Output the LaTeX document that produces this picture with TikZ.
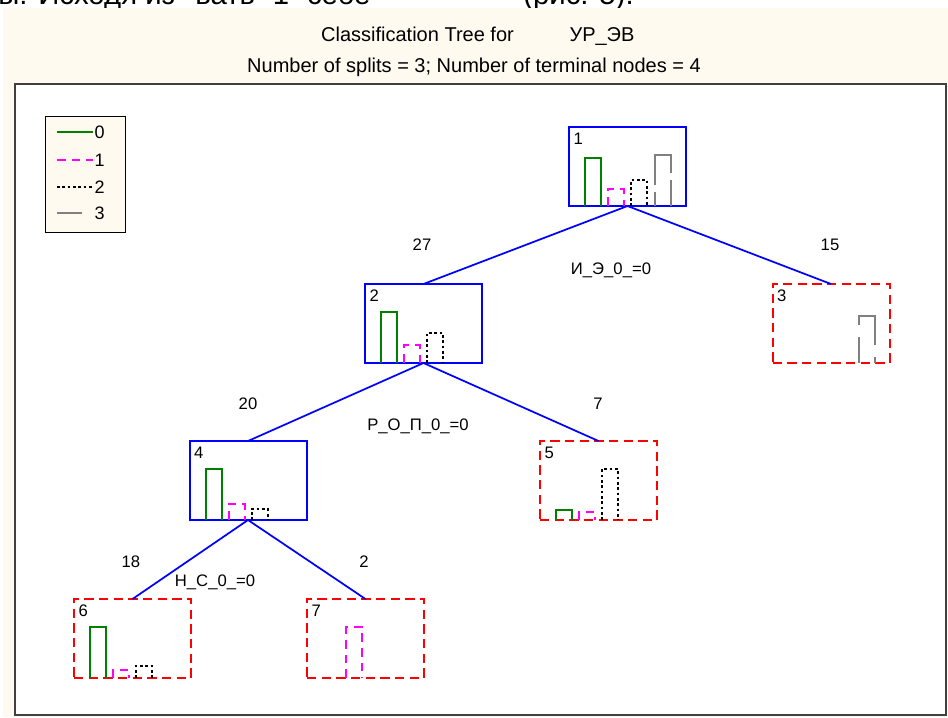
\documentclass[tikz,border=0pt]{standalone}
\usepackage{fontspec}
\setmainfont{Liberation Sans}
\usetikzlibrary{calc}

\definecolor{paper}{RGB}{255,250,240}
\definecolor{cgreen}{RGB}{0,128,0}
\definecolor{cmag}{RGB}{255,0,255}

\tikzset{
  split/.style={draw=blue, line width=1.5pt, minimum width=87.75pt, minimum height=59.25pt, inner sep=0pt, outer sep=0pt},
  leaf/.style={split, draw=red, dash pattern=on 7pt off 4pt},
  edge/.style={blue, line width=1.3pt},
  cls0/.style={cgreen, line width=1.5pt},
  cls1/.style={cmag, line width=1.5pt, dash pattern=on 6.5pt off 4.5pt},
  cls2/.style={black, line width=1.5pt, dash pattern=on 2pt off 2pt},
  cls3/.style={gray, line width=1.5pt},
  num/.style={font=\fontsize{12.5}{14}\selectfont, inner sep=1pt},
  head/.style={font=\fontsize{15}{17}\selectfont, inner sep=0pt, anchor=base},
  pagetext/.style={font=\fontsize{22}{26}\selectfont, inner sep=0pt, anchor=base west},
}

% one open bar of a histogram: node, offset, height, style
\newcommand{\histbar}[4]{%
  \draw[#4] ($(#1.south west)+(#2,0)$) -- ++(0,-#3) -- ++(16,0) -- ++(0,#3);}

\begin{document}
\begin{tikzpicture}[x=0.75pt, y=-0.75pt]
\useasboundingbox (0,0) rectangle (948,717);
\fill[white] (0,0) rectangle (948,717);

% line of the page above, cut off
\begin{scope}
\clip (0,0) rectangle (948,8);
\node[pagetext] (pt1) at (-2,5) {ы. Исходя из};
\node[pagetext] (pt2) at (195,5) {вать “1” себе};
\node[pagetext] (pt3) at (523,5) {(рис. 5).};
\end{scope}

\fill[paper] (3,8) rectangle (948,717);
\node[head] (ttl) at (417.5,42) {Classification Tree for};
\node[head] (dep) at (602,42) {УР\_ЭВ};
\node[head] (sub) at (474,73) {Number of splits = 3; Number of terminal nodes = 4};
\draw[line width=1.2pt, draw=black!75, fill=white] (15,84) rectangle (946,715);

% legend
\node[draw, fill=paper, line width=1pt, minimum width=60pt, minimum height=87pt, inner sep=0pt, anchor=north west] (legend) at (45,116) {};
\foreach \c/\y in {0/132,1/160,2/187,3/213}
  \node[num, font=\fontsize{13.5}{15}\selectfont, anchor=west] (lg\c) at (93,\y) {\c};
\draw[cls0] (57,132) -- (lg0.west);
\draw[cls1] (57,160) -- (lg1.west);
\draw[cls2] (57,187) -- (lg2.west);
\draw[cls3] (57,213) -- ([xshift=-8pt]lg3.west);

% tree nodes
\node[split] (n1) at (627.5,166.5) {};
\node[split] (n2) at (423.5,323.5) {};
\node[leaf]  (n3) at (831,323.5) {};
\node[split] (n4) at (248,480.5) {};
\node[leaf]  (n5) at (598.5,480.5) {};
\node[leaf]  (n6) at (132.5,638.5) {};
\node[leaf]  (n7) at (365.5,638.5) {};
\foreach \n in {1,...,7}
  \node[num, anchor=north west] (id\n) at ($(n\n.north west)+(3,4)$) {\n};

\draw[edge] (n1.south) -- (n2.north);
\draw[edge] (n1.south) -- (n3.north);
\draw[edge] (n2.south) -- (n4.north);
\draw[edge] (n2.south) -- (n5.north);
\draw[edge] (n4.south) -- (n6.north);
\draw[edge] (n4.south) -- (n7.north);

% counts and split rules
\node[num] (c2) at (422,245) {27};
\node[num] (c3) at (830,245) {15};
\node[num] (r1) at (611,270) {И\_Э\_0\_=0};
\node[num] (c4) at (248,404) {20};
\node[num] (c5) at (598,404) {7};
\node[num] (r2) at (418,426) {Р\_О\_П\_0\_=0};
\node[num] (c6) at (131,562) {18};
\node[num] (c7) at (364,562) {2};
\node[num] (r4) at (215,582) {Н\_С\_0\_=0};

% histograms
\histbar{n1}{16}{48}{cls0}
\histbar{n1}{39}{17}{cls1}
\histbar{n1}{62}{26}{cls2}
\histbar{n1}{86}{51}{cls3, dash pattern=on 48pt off 5.25pt, dash phase=37.5pt}
\histbar{n2}{16}{51}{cls0}
\histbar{n2}{39}{18}{cls1}
\histbar{n2}{62}{30}{cls2}
\histbar{n3}{86}{47}{cls3, dash pattern=on 40.5pt off 9pt, dash phase=21pt}
\histbar{n4}{16}{51}{cls0}
\histbar{n4}{39}{16}{cls1}
\histbar{n4}{62}{11}{cls2}
\histbar{n5}{16}{10}{cls0}
\histbar{n5}{39}{8}{cls1}
\histbar{n5}{62}{51}{cls2}
\histbar{n6}{16}{51}{cls0}
\histbar{n6}{39}{8}{cls1}
\histbar{n6}{62}{12}{cls2}
\histbar{n7}{39}{51}{cls1}
\end{tikzpicture}
\end{document}
